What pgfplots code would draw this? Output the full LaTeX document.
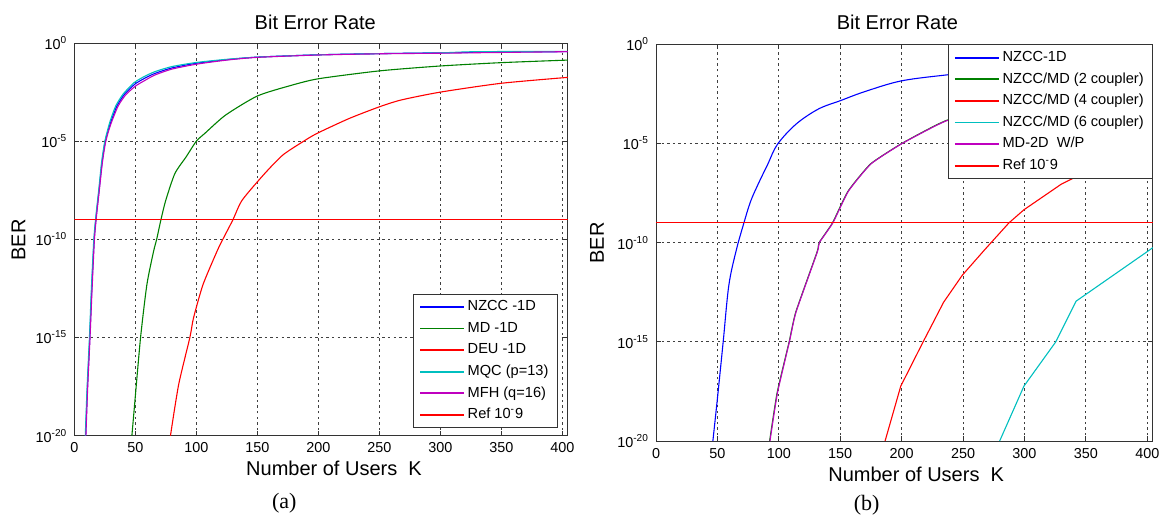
\documentclass[border=0pt]{standalone}
\usepackage{fontspec}
\setmainfont{Liberation Sans}
\newfontfamily\capfont{Liberation Serif}
\usepackage{pgfplots}
\pgfplotsset{compat=1.18}

\definecolor{mblue}{rgb}{0,0,1}
\definecolor{mgreen}{rgb}{0,0.5,0}
\definecolor{mred}{rgb}{1,0,0}
\definecolor{mcyan}{rgb}{0,0.75,0.75}
\definecolor{mmag}{rgb}{0.75,0,0.75}

\pgfplotsset{
  every axis/.append style={
    scale only axis,
    xmin=0, xmax=404.5, ymin=1e-20, ymax=1,
    xtick={0,50,...,400}, ytick={1e-20,1e-15,1e-10,1e-5,1},
    yticklabels={10\textsuperscript{-20},10\textsuperscript{-15},10\textsuperscript{-10},10\textsuperscript{-5},10\textsuperscript{0}},
    yminorticks=false,
    grid=major,
    major grid style={black!75, dash pattern=on 1.2pt off 1.6pt, line width=0.4pt},
    axis line style={black!80, line width=0.5pt},
    tick style={black!80, line width=0.4pt}, tick align=inside, major tick length=2.5pt,
    tick label style={font=\fontsize{7.2}{8}\selectfont},
    /pgf/number format/assume math mode=true,
    legend cell align=left,
    legend style={font=\fontsize{7.3}{8}\selectfont, draw=black!80, fill=white,
      line width=0.5pt, inner xsep=2.9pt, inner ysep=1pt, row sep=0pt,
      nodes={inner xsep=1.4pt, inner ysep=2pt, text height=5.3pt, text depth=1.5pt}},
  },
  every axis plot/.append style={line width=0.55pt, no marks},
  legend image code/.code={\draw[#1,line width=0.9pt] (0pt,0pt) -- (22pt,0pt);},
}

\begin{document}
\begin{tikzpicture}
\useasboundingbox (0,0) rectangle (583.5pt,-258pt);

% ---------------- (a) ----------------
\begin{semilogyaxis}[at={(37.15pt,-217.85pt)}, anchor=south west,
  width=246.8pt, height=196.35pt,
  legend style={at={(0.979,0.019)}, anchor=south east},
  every axis plot/.append style={smooth, tension=0.4}]

% NZCC -1D
\addplot[mblue] coordinates {
  (9.3,1e-20)(10.8,3.16e-18)(12.7,1e-15)(14.3,3.16e-13)(16.3,1e-10)(18,1.58e-9)
  (20.3,3.16e-8)(22.7,7.94e-7)(25.1,7.94e-6)(27.5,3.16e-5)(30.3,1.12e-4)(35,6.31e-4)
  (41,2.40e-3)(49.5,7.94e-3)(57.5,1.58e-2)(66,2.82e-2)(80,5.37e-2)(100,9.33e-2)
  (125,0.141)(150,0.191)(200,0.251)(250,0.288)(300,0.316)(350,0.347)(404.5,0.363)};
% MD -1D
\addplot[mgreen] coordinates {
  (47.2,1e-20)(49.3,3.16e-19)(54.3,1e-15)(59.5,5.01e-13)(65,2.51e-11)(67.5,1e-10)
  (71,1e-9)(75,1e-8)(82.4,2.24e-7)(91.6,1.58e-6)(100,1e-5)(107,2.51e-5)(124,2.14e-4)
  (150,2.0e-3)(177,6.76e-3)(200,1.51e-2)(250,3.80e-2)(300,6.76e-2)(350,0.1)(404.5,0.135)};
% DEU -1D
\addplot[mred] coordinates {
  (78.8,1e-20)(85.5,3.98e-18)(94.7,1e-15)(97.7,1e-14)(105.5,5.01e-13)(117,2.51e-11)
  (121.7,1e-10)(130,1e-9)(137.6,1e-8)(156,2.24e-7)(171,2.0e-6)(188,1e-5)(199,2.51e-5)
  (225,1.41e-4)(250,5.62e-4)(268,1.26e-3)(300,3.16e-3)(350,8.91e-3)(404.5,1.78e-2)};
% MQC (p=13)
\addplot[mcyan] coordinates {
  (9,1e-20)(10.5,3.16e-18)(12.4,1e-15)(14,3.16e-13)(16,1e-10)(17.7,1.58e-9)
  (20,3.16e-8)(22.3,7.94e-7)(24.7,7.94e-6)(27,3.16e-5)(29.5,1.12e-4)(34,6.31e-4)
  (40,2.51e-3)(49,9.55e-3)(57,1.91e-2)(66,3.47e-2)(80,6.31e-2)(100,0.102)
  (125,0.148)(150,0.191)(200,0.251)(250,0.288)(300,0.316)(330,0.363)(404.5,0.372)};
% MFH (q=16)
\addplot[mmag] coordinates {
  (9.5,1e-20)(11,3.16e-18)(12.9,1e-15)(14.6,3.16e-13)(16.5,1e-10)(18.2,1.58e-9)
  (20.5,3.16e-8)(23,7.94e-7)(25.5,7.94e-6)(28,3.16e-5)(31,1.12e-4)(36,6.31e-4)
  (42,2.24e-3)(50,6.31e-3)(58,1.26e-2)(66,2.34e-2)(80,4.68e-2)(100,8.32e-2)
  (125,0.135)(150,0.186)(200,0.245)(250,0.282)(300,0.302)(350,0.331)(404.5,0.363)};
% Ref 1e-9
\addplot[mred] coordinates {(0,1e-9)(404.5,1e-9)};

\legend{NZCC -1D,MD -1D,DEU -1D,MQC (p=13),MFH (q=16),Ref 10\textsuperscript{-}9}
\end{semilogyaxis}

% ---------------- (b) ----------------
\begin{semilogyaxis}[at={(328pt,-220.5pt)}, anchor=south west,
  width=248.4pt, height=198.35pt,
  legend style={at={(1,1)}, anchor=north east}]

% NZCC-1D
\addplot[mblue, smooth, tension=0.55] coordinates {
  (46.3,1e-20)(50.2,1.82e-18)(54.7,1e-15)(59.3,7.08e-13)(65.4,4.27e-11)
  (71.5,9.55e-10)(77,1.2e-8)(83.7,1.05e-7)(91,9.0e-7)(98.9,9.12e-6)(114.1,9.55e-5)(132.3,5.5e-4)
  (150.6,1.48e-3)(168.8,3.89e-3)(199.2,1.41e-2)(237,2.88e-2)(270,4.47e-2)(300,6.31e-2)
  (350,9.55e-2)(404.5,0.132)};
% NZCC/MD (2 coupler)
\addplot[mgreen, smooth, tension=0.3] coordinates {
  (92.5,1e-20)(98.6,2.69e-18)(108.4,1e-15)(113.8,3.16e-14)(131.2,3.47e-11)(132.8,1e-10)
  (143.7,1e-9)(156.4,3.98e-8)(174.7,9.33e-7)(198.7,8.91e-6)(220,4.68e-5)(236.7,1.48e-4)
  (270,6.61e-4)(300,1.66e-3)(350,5.25e-3)(404.5,1.32e-2)};
% NZCC/MD (4 coupler)
\addplot[mred] coordinates {
  (186.5,1e-20)(199.3,5.89e-18)(217.5,1e-15)(234.2,1e-13)(249.4,2.29e-12)(267.7,4.47e-11)
  (287.4,1e-9)(299.6,4.57e-9)(330,8.91e-8)(370,1.58e-6)(404.5,1.26e-5)};
% NZCC/MD (6 coupler)
\addplot[mcyan] coordinates {
  (279.8,1e-20)(299.6,5.89e-18)(325.5,1e-15)(342,1.12e-13)(400,3.55e-11)(404.5,5.62e-11)};
% MD-2D W/P
\addplot[mmag, smooth, tension=0.3] coordinates {
  (92.8,1e-20)(98.9,2.69e-18)(108.6,1e-15)(114,3.16e-14)(131.4,3.47e-11)(133,1e-10)
  (144,1e-9)(156.7,3.98e-8)(175,9.33e-7)(199,8.91e-6)(220,4.47e-5)(236.7,1.41e-4)
  (270,6.31e-4)(300,1.58e-3)(350,5.01e-3)(404.5,1.26e-2)};
% Ref 1e-9
\addplot[mred] coordinates {(0,1e-9)(404.5,1e-9)};

\legend{NZCC-1D,NZCC/MD (2 coupler),NZCC/MD (4 coupler),NZCC/MD (6 coupler),MD-2D\ \ W/P,Ref 10\textsuperscript{-}9}
\end{semilogyaxis}

% titles, axis labels, captions
\begin{scope}[font=\fontsize{10}{12}\selectfont]
\node[anchor=base] at (157.65pt,-14.65pt) {Bit Error Rate};
\node[anchor=base] at (448.7pt,-14.65pt) {Bit Error Rate};
\node[anchor=base] at (167pt,-237.5pt) {Number of Users\ \ K};
\node[anchor=base] at (458.1pt,-240.5pt) {Number of Users\ \ K};
\node[rotate=90] at (9.3pt,-120pt) {BER};
\node[rotate=90] at (298.5pt,-121.5pt) {BER};
\end{scope}
\node[font=\capfont\fontsize{11}{13}\selectfont] at (142.15pt,-251.65pt) {(a)};
\node[font=\capfont\fontsize{11}{13}\selectfont] at (433.3pt,-252.5pt) {(b)};
\end{tikzpicture}
\end{document}
